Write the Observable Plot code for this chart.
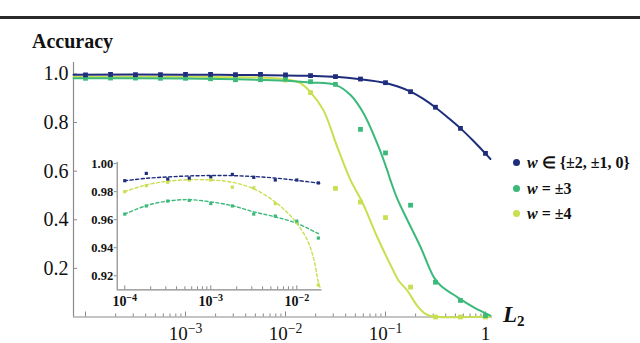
<!DOCTYPE html>
<html><head><meta charset="utf-8">
<script src="https://cdn.jsdelivr.net/npm/d3@7"></script>
<script src="https://cdn.jsdelivr.net/npm/@observablehq/plot@0.6"></script>
<style>
body{margin:0;background:#fff;}
#wrap{position:relative;width:640px;height:343px;overflow:hidden;font-family:"Liberation Serif",serif;color:#111;}
#wrap svg{position:absolute;background:transparent;}
.rule{position:absolute;left:0;top:16px;width:640px;height:2.5px;background:#2a2a2a;}
.ylab{position:absolute;left:32px;top:30px;font-size:20px;font-weight:bold;}
.xlab{position:absolute;left:503px;top:302px;font-size:23px;font-weight:bold;font-style:italic;}
.xlab sub{font-size:15px;font-style:normal;vertical-align:-4px;line-height:0;}
.leg{position:absolute;left:513px;font-size:16px;font-weight:bold;line-height:1;white-space:nowrap;}
.leg span.d{display:inline-block;width:7px;height:7px;border-radius:50%;margin-right:7px;vertical-align:2px;}
</style></head><body><div id="wrap"><div class="rule"></div></div>
<script>
// ---- data ----
const xs = [1e-4, 1.78e-4, 3.16e-4, 5.62e-4, 1e-3, 1.78e-3, 3.16e-3, 5.62e-3, 1e-2, 1.78e-2, 3.16e-2, 5.62e-2, 0.1, 0.178, 0.316, 0.562, 1];
const blueMain   = [0.996, 0.998, 0.997, 0.997, 0.998, 0.998, 0.997, 0.998, 0.996, 0.993, 0.989, 0.979, 0.964, 0.927, 0.863, 0.776, 0.673];
const greenMain  = [0.982, 0.983, 0.983, 0.982, 0.982, 0.980, 0.976, 0.976, 0.978, 0.968, 0.957, 0.772, 0.675, 0.460, 0.143, 0.068, 0.006];
const yellowMain = [0.985, 0.990, 0.988, 0.989, 0.989, 0.985, 0.983, 0.978, 0.975, 0.923, 0.529, 0.473, 0.409, 0.123, 0.0, 0.0, 0.0];

const blueFitX = [7.6e-5, 1e-3, 3.16e-3, 1e-2, 1.78e-2, 3.16e-2, 5.62e-2, 0.1, 0.133, 0.178, 0.237, 0.316, 0.422, 0.562, 0.75, 1, 1.12];
const blueFitY = [0.997, 0.997, 0.996, 0.994, 0.992, 0.988, 0.978, 0.963, 0.948, 0.927, 0.898, 0.862, 0.820, 0.776, 0.726, 0.672, 0.650];
const greenFitX = [7.6e-5, 1e-3, 3.16e-3, 1e-2, 1.78e-2, 3.16e-2, 4.47e-2, 6.03e-2, 8.26e-2, 0.104, 0.112, 0.131, 0.165, 0.224, 0.304, 0.355, 0.521, 0.764, 1.12];
const greenFitY = [0.982, 0.981, 0.978, 0.972, 0.965, 0.955, 0.913, 0.838, 0.714, 0.604, 0.563, 0.487, 0.400, 0.288, 0.164, 0.130, 0.082, 0.040, 0.006];
const yellowFitX = [7.6e-5, 1.41e-3, 5.62e-3, 1e-2, 1.41e-2, 1.82e-2, 2.4e-2, 3.29e-2, 4.47e-2, 5.85e-2, 8.26e-2, 0.12, 0.135, 0.165, 0.207, 0.251, 0.302, 1.12];
const yellowFitY = [0.988, 0.988, 0.985, 0.978, 0.962, 0.920, 0.850, 0.700, 0.563, 0.473, 0.329, 0.190, 0.150, 0.109, 0.047, 0.013, 0.002, 0.002];

// inset (x = first 10 of xs)
const insetX = xs.slice(0, 10);
const blueInset   = [0.9878, 0.9930, 0.9890, 0.9897, 0.9906, 0.9923, 0.9902, 0.9883, 0.9883, 0.9862];
const greenInset  = [0.9640, 0.9698, 0.9733, 0.9738, 0.9715, 0.9698, 0.9640, 0.9626, 0.9590, 0.9469];
const yellowInset = [0.9800, 0.9843, 0.9867, 0.9883, 0.9883, 0.9832, 0.9827, 0.9715, 0.9579, 0.9134];
const blueDashX = [1e-4, 1.78e-4, 3.16e-4, 5.62e-4, 1e-3, 1.78e-3, 3.16e-3, 5.62e-3, 1e-2, 1.85e-2];
const blueDashY = [0.9878, 0.9895, 0.9905, 0.9912, 0.9915, 0.9914, 0.9908, 0.9897, 0.9880, 0.9860];
const greenDashX = [1e-4, 1.78e-4, 3.16e-4, 5.62e-4, 1e-3, 1.78e-3, 3.16e-3, 5.62e-3, 1e-2, 1.85e-2];
const greenDashY = [0.9640, 0.9700, 0.9733, 0.9743, 0.9727, 0.9700, 0.9656, 0.9620, 0.9574, 0.9495];
const yellowDashX = [1e-4, 1.78e-4, 3.16e-4, 5.62e-4, 1e-3, 1.78e-3, 3.16e-3, 5.62e-3, 7.6e-3, 1e-2, 1.32e-2, 1.58e-2, 1.78e-2, 1.9e-2];
const yellowDashY = [0.9800, 0.9848, 0.9874, 0.9885, 0.9883, 0.9867, 0.9820, 0.9726, 0.9656, 0.9574, 0.9457, 0.9317, 0.9153, 0.9100];

const seriesNames = ["w ∈ {±2, ±1, 0}", "w = ±3", "w = ±4"];
const colors = ["#1f2d7d", "#3bb97a", "#c9df50"];

const mainXTicks = [1e-4, 1e-3, 1e-2, 1e-1, 1];
const mainXLabels = ["", "10^−3", "10^−2", "10^−1", "1"];
const mainYTicks = [0.2, 0.4, 0.6, 0.8, 1.0];
const insetXTicks = [1e-4, 1e-3, 1e-2];
const insetXLabels = ["10^−4", "10^−3", "10^−2"];
const insetYTicks = [0.92, 0.94, 0.96, 0.98, 1.00];

// ---- helpers ----
function minorTicks(lo, hi) {
  const out = [];
  for (let e = lo; e <= hi; e++) for (let m = 2; m <= 9; m++) out.push(m * 10 ** e);
  return out;
}
function rows(x, y) { return x.map((v, i) => ({x: v, y: y[i]})); }
function superscripts(svg) {
  svg.querySelectorAll("text").forEach(t => {
    const s = t.textContent;
    if (s.includes("^")) {
      const [b, e] = s.split("^");
      t.textContent = b;
      const ts = document.createElementNS("http://www.w3.org/2000/svg", "tspan");
      ts.setAttribute("dy", "-0.5em");
      ts.setAttribute("font-size", "72%");
      ts.textContent = e;
      t.appendChild(ts);
    }
  });
}
const gray = "#8a8a8a";

// ---- main plot ----
const xDom = [10 ** -4.12, 10 ** 0.07];
const mainLabel = new Map(mainXTicks.map((v, i) => [v, mainXLabels[i]]));
const main = Plot.plot({
  width: 640, height: 343,
  marginLeft: 73, marginRight: 148, marginTop: 62, marginBottom: 26.5,
  style: {fontFamily: "Liberation Serif, serif", fontSize: "20px", background: "transparent"},
  x: {type: "log", domain: xDom},
  y: {domain: [0, 1.047]},
  marks: [
    Plot.ruleY([0], {stroke: gray, strokeWidth: 1.2}),
    Plot.ruleX([xDom[0]], {stroke: gray, strokeWidth: 1.2}),
    Plot.axisX(minorTicks(-4, -1).filter(v => v > xDom[0] && v < xDom[1]), {tickSize: -3, tickFormat: () => "", stroke: gray, label: null}),
    Plot.axisX(mainXTicks, {tickSize: -5, tickPadding: 14, fontSize: 19, tickFormat: d => mainLabel.get(d), stroke: gray, fill: "#111", label: null}),
    Plot.axisY(mainYTicks, {tickSize: -4, tickPadding: 9, tickFormat: d3.format(".1f"), stroke: gray, fill: "#111", label: null}),
    Plot.line(rows(yellowFitX, yellowFitY), {x: "x", y: "y", stroke: colors[2], strokeWidth: 2, curve: "catmull-rom"}),
    Plot.line(rows(greenFitX, greenFitY), {x: "x", y: "y", stroke: colors[1], strokeWidth: 2, curve: "catmull-rom"}),
    Plot.line(rows(blueFitX, blueFitY), {x: "x", y: "y", stroke: colors[0], strokeWidth: 2, curve: "catmull-rom"}),
    Plot.dot(rows(xs, yellowMain), {x: "x", y: "y", fill: colors[2], symbol: "square", r: 2.7}),
    Plot.dot(rows(xs, greenMain), {x: "x", y: "y", fill: colors[1], symbol: "square", r: 2.7}),
    Plot.dot(rows(xs, blueMain), {x: "x", y: "y", fill: colors[0], symbol: "square", r: 2.7})
  ]
});
superscripts(main);
main.style.left = "0px"; main.style.top = "0px";
document.getElementById("wrap").appendChild(main);

// ---- inset ----
const inDom = [10 ** -4.088, 10 ** -1.707];
const inLabel = new Map(insetXTicks.map((v, i) => [v, insetXLabels[i]]));
const inset = Plot.plot({
  width: 270, height: 175,
  marginLeft: 56.7, marginRight: 8.5, marginTop: 21.7, marginBottom: 25.7,
  style: {fontFamily: "Liberation Serif, serif", fontSize: "14px", fontWeight: "bold", background: "transparent"},
  x: {type: "log", domain: inDom},
  y: {domain: [0.910, 1.001]},
  marks: [
    Plot.ruleY([0.910], {stroke: gray, strokeWidth: 1.2}),
    Plot.ruleX([inDom[0]], {stroke: gray, strokeWidth: 1.2}),
    Plot.axisX(minorTicks(-4, -2).filter(v => v > inDom[0] && v < inDom[1]), {tickSize: -3, tickFormat: () => "", stroke: gray, label: null}),
    Plot.axisX(insetXTicks, {tickSize: -4, tickPadding: 10, tickFormat: d => inLabel.get(d), stroke: gray, fill: "#111", label: null}),
    Plot.axisY(insetYTicks, {tickSize: 3, tickPadding: 1, tickFormat: d3.format(".2f"), stroke: gray, fill: "#111", fontSize: 12.5, label: null}),
    Plot.line(rows(yellowDashX, yellowDashY), {x: "x", y: "y", stroke: colors[2], strokeWidth: 1.4, strokeDasharray: "3,2.5", curve: "catmull-rom", clip: true}),
    Plot.line(rows(greenDashX, greenDashY), {x: "x", y: "y", stroke: colors[1], strokeWidth: 1.4, strokeDasharray: "3,2.5", curve: "catmull-rom"}),
    Plot.line(rows(blueDashX, blueDashY), {x: "x", y: "y", stroke: colors[0], strokeWidth: 1.4, strokeDasharray: "3,2.5", curve: "catmull-rom"}),
    Plot.dot(rows(insetX, yellowInset), {x: "x", y: "y", fill: colors[2], symbol: "square", r: 1.8}),
    Plot.dot(rows(insetX, greenInset), {x: "x", y: "y", fill: colors[1], symbol: "square", r: 1.8}),
    Plot.dot(rows(insetX, blueInset), {x: "x", y: "y", fill: colors[0], symbol: "square", r: 1.8})
  ]
});
superscripts(inset);
inset.style.left = "60px"; inset.style.top = "140px";
document.getElementById("wrap").appendChild(inset);

// ---- labels & legend ----
const wrap = document.getElementById("wrap");
const yl = document.createElement("div"); yl.className = "ylab"; yl.textContent = "Accuracy"; wrap.appendChild(yl);
const xl = document.createElement("div"); xl.className = "xlab"; xl.innerHTML = "L<sub>2</sub>"; wrap.appendChild(xl);
const legTops = [155, 181, 206];
seriesNames.forEach((name, i) => {
  const d = document.createElement("div"); d.className = "leg"; d.style.top = legTops[i] + "px";
  const dot = document.createElement("span"); dot.className = "d"; dot.style.background = colors[i];
  d.appendChild(dot);
  const w = document.createElement("i"); w.textContent = name.slice(0, 1); d.appendChild(w);
  d.appendChild(document.createTextNode(" " + name.slice(2)));
  wrap.appendChild(d);
});
</script>
</body></html>
